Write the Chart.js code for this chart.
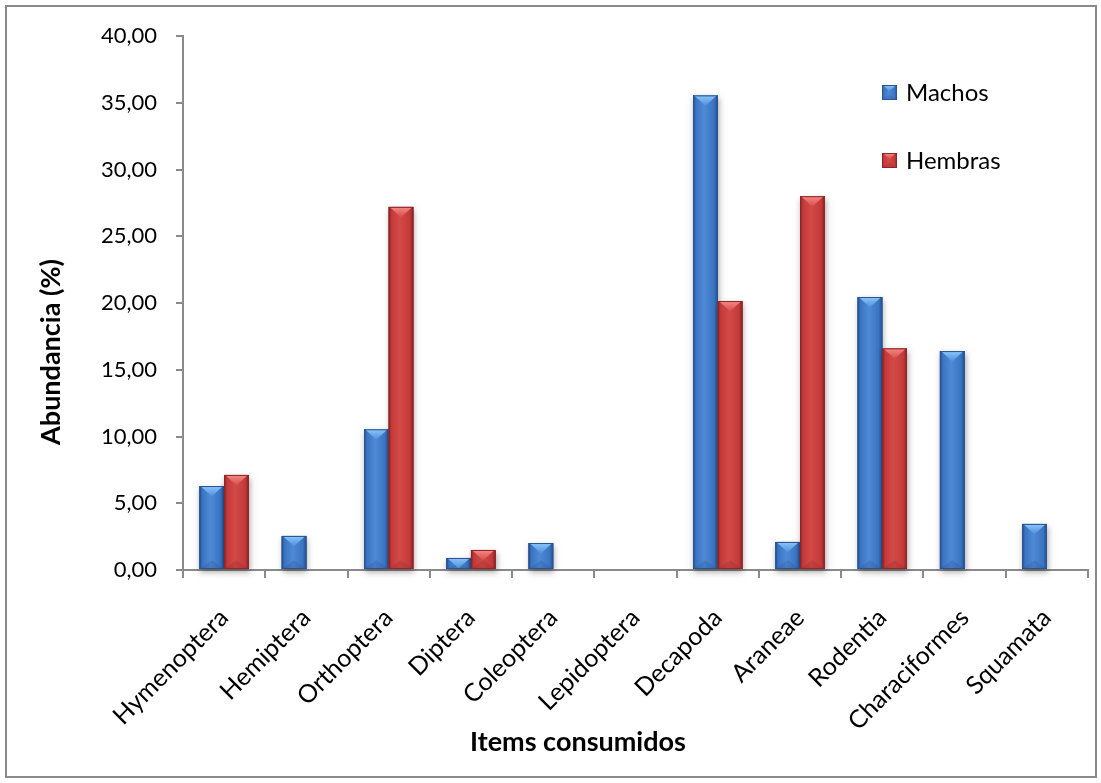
<!DOCTYPE html>
<html>
<head>
<meta charset="utf-8">
<style>
  html, body { margin: 0; padding: 0; background: #fff; }
  #wrap { width: 1101px; height: 783px; position: relative; }
</style>
<script src="https://cdn.jsdelivr.net/npm/chart.js@4.4.0/dist/chart.umd.min.js"></script>
</head>
<body>
<div id="wrap"><canvas id="c" width="1101" height="783"></canvas></div>
<script>
const categories = ['Hymenoptera','Hemiptera','Orthoptera','Diptera','Coleoptera','Lepidoptera','Decapoda','Araneae','Rodentia','Characiformes','Squamata'];
const machos  = [6.29, 2.55, 10.54, 0.90, 2.02, 0, 35.55, 2.10, 20.45, 16.40, 3.45];
const hembras = [7.12, 0,    27.20, 1.50, 0,    0, 20.15, 28.00, 16.60, 0,    0];
const seriesNames = ['Machos', 'Hembras'];
const yTickLabels = ['0,00','5,00','10,00','15,00','20,00','25,00','30,00','35,00','40,00'];
const xTitle = 'Items consumidos';
const yTitle = 'Abundancia (%)';

const FONT = "Lato, 'Liberation Sans', sans-serif";

const palettes = [
  { base: '#3A74C2', dark: '#24508C', light: '#4F8AD6', top1: '#8CC6F8', top2: '#4E90DE', outline: '#2A5390' },
  { base: '#C43A3A', dark: '#8A2224', light: '#D24A48', top1: '#F48A86', top2: '#D84C4A', outline: '#8C2628' }
];

function drawBevelBar(ctx, left, top, w, h, p, shadow) {
  if (h <= 0.5) return;
  const right = left + w, bottom = top + h;
  if (shadow) {
    ctx.save();
    ctx.shadowColor = 'rgba(0,0,0,0.35)';
    ctx.shadowBlur = 6;
    ctx.shadowOffsetX = 1;
    ctx.shadowOffsetY = 3;
    ctx.fillStyle = p.base;
    ctx.fillRect(left, top, w, h);
    ctx.restore();
  }
  const g = ctx.createLinearGradient(left, 0, right, 0);
  g.addColorStop(0, p.dark);
  g.addColorStop(0.12, p.base);
  g.addColorStop(0.45, p.light);
  g.addColorStop(0.85, p.base);
  g.addColorStop(1, p.dark);
  ctx.fillStyle = g;
  ctx.fillRect(left, top, w, h);
  const bh = Math.min(w * 0.35, h * 0.5);
  ctx.save();
  ctx.globalAlpha = 0.25;
  ctx.fillStyle = p.dark;
  ctx.beginPath();
  ctx.moveTo(left, bottom);
  ctx.lineTo(right, bottom);
  ctx.lineTo(left + w / 2, bottom - bh);
  ctx.closePath();
  ctx.fill();
  ctx.restore();
  const th = Math.min(w * 0.42, h);
  const tg = ctx.createLinearGradient(0, top, 0, top + th);
  tg.addColorStop(0, p.top1);
  tg.addColorStop(1, p.top2);
  ctx.fillStyle = tg;
  ctx.beginPath();
  ctx.moveTo(left + 1, top);
  ctx.lineTo(right - 1, top);
  ctx.lineTo(left + w / 2, top + th);
  ctx.closePath();
  ctx.fill();
  ctx.strokeStyle = p.outline;
  ctx.lineWidth = 1;
  ctx.strokeRect(left + 0.5, top + 0.5, w - 1, h - 1);
}

const bevelPlugin = {
  id: 'bevel',
  afterDatasetsDraw(chart) {
    const ctx = chart.ctx;
    chart.data.datasets.forEach((ds, di) => {
      const meta = chart.getDatasetMeta(di);
      meta.data.forEach((bar) => {
        const { x, y, base, width } = bar.getProps(['x', 'y', 'base', 'width'], true);
        const left = x - width / 2;
        const top = Math.min(y, base);
        const h = Math.abs(base - y);
        drawBevelBar(ctx, left, top, width, h, palettes[di], true);
      });
    });
  }
};

const framePlugin = {
  id: 'frame',
  beforeDraw(chart) {
    const ctx = chart.ctx;
    ctx.save();
    ctx.fillStyle = '#ffffff';
    ctx.fillRect(0, 0, chart.width, chart.height);
    ctx.strokeStyle = '#8a8a8a';
    ctx.lineWidth = 2;
    ctx.strokeRect(6, 6, 1090, 771);
    ctx.restore();
  },
  afterDraw(chart) {
    const ctx = chart.ctx;
    ctx.save();
    const positions = [{ x: 882, y: 85 }, { x: 882, y: 153 }];
    chart.data.datasets.forEach((ds, i) => {
      const pos = positions[i];
      drawBevelBar(ctx, pos.x, pos.y, 15, 15, palettes[i], false);
      ctx.fillStyle = '#000';
      ctx.font = '24px ' + FONT;
      ctx.textBaseline = 'middle';
      ctx.textAlign = 'left';
      ctx.fillText(ds.label, pos.x + 24, pos.y + 8);
    });
    ctx.fillStyle = '#000';
    ctx.font = 'bold 27px ' + FONT;
    ctx.textAlign = 'center';
    ctx.textBaseline = 'middle';
    ctx.fillText(xTitle, 578, 742);
    ctx.translate(51, 352);
    ctx.rotate(-Math.PI / 2);
    ctx.fillText(yTitle, 0, 0);
    ctx.restore();
  }
};

new Chart(document.getElementById('c'), {
  type: 'bar',
  data: {
    labels: categories,
    datasets: [
      { label: seriesNames[0], data: machos, backgroundColor: palettes[0].base, borderWidth: 0 },
      { label: seriesNames[1], data: hembras, backgroundColor: palettes[1].base, borderWidth: 0 }
    ]
  },
  options: {
    responsive: false,
    animation: false,
    devicePixelRatio: 1,
    layout: { padding: { left: 0, right: 13, top: 36, bottom: 0 } },
    datasets: { bar: { barPercentage: 1.0, categoryPercentage: 0.6 } },
    plugins: { legend: { display: false }, tooltip: { enabled: false } },
    scales: {
      x: {
        grid: { display: true, drawOnChartArea: false, drawTicks: true, tickLength: 8, color: '#8a8a8a', lineWidth: 2 },
        border: { display: true, color: '#8a8a8a', width: 2 },
        ticks: { maxRotation: 45, minRotation: 45, color: '#000', font: { family: FONT, size: 25 }, padding: 25, autoSkip: false },
        title: { display: false, text: xTitle },
        afterFit(scale) { scale.height = 783 - 570; }
      },
      y: {
        min: 0, max: 40,
        grid: { display: true, drawOnChartArea: false, drawTicks: true, tickLength: 7, color: '#8a8a8a', lineWidth: 2 },
        border: { display: true, color: '#8a8a8a', width: 2 },
        ticks: {
          stepSize: 5, color: '#000', font: { family: FONT, size: 22 }, padding: 19,
          callback: (v) => yTickLabels[Math.round(v / 5)]
        },
        title: { display: false, text: yTitle },
        afterFit(scale) { scale.width = 183; }
      }
    }
  },
  plugins: [framePlugin, bevelPlugin]
});
</script>
</body>
</html>
